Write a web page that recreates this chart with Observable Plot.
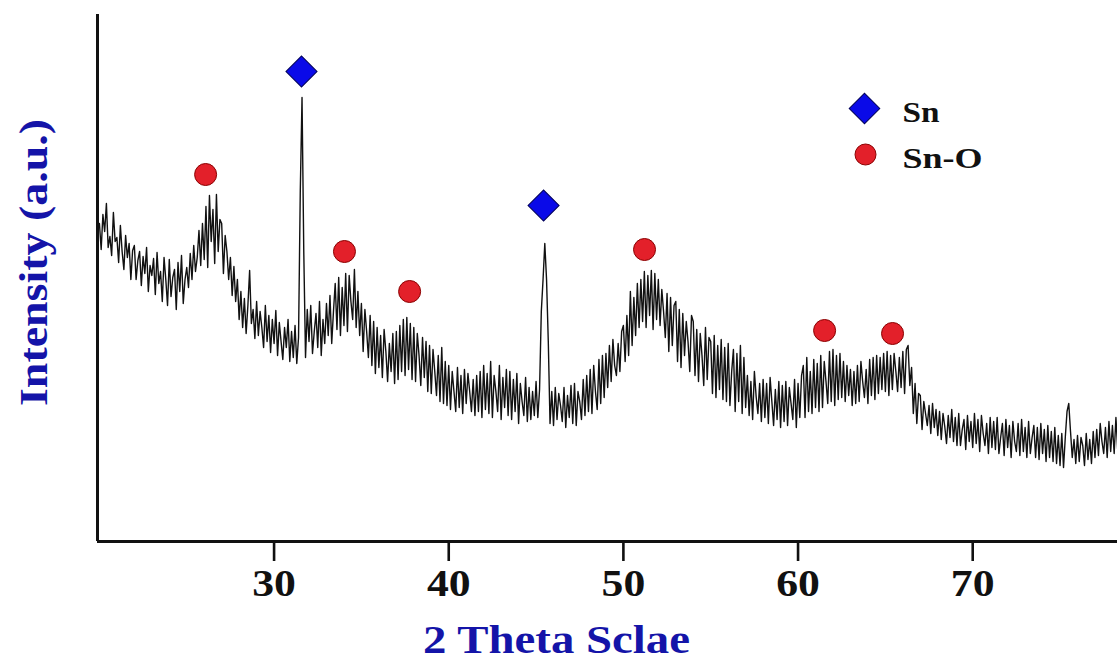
<!DOCTYPE html>
<html><head><meta charset="utf-8">
<script src="https://cdn.jsdelivr.net/npm/d3@7"></script>
<script src="https://cdn.jsdelivr.net/npm/@observablehq/plot@0.6"></script>
<style>
html,body{margin:0;padding:0;background:#fff;}
#chart svg text{font-family:"Liberation Serif","Times New Roman",serif;}
#chart svg [aria-label="x-axis tick"] path,
#chart svg [aria-label="x-axis tick"] line{stroke-width:2.6px;stroke:#111;}
</style></head><body><div id="chart"></div>
<script>
// XRD pattern: 2θ grid start/step and intensities (a.u.)
const twoThetaStart = 20.0;
const twoThetaStep = 0.1;
const intensity = [
  318,292,327,310,338,294,305,286,329,300, // 20
  304,279,316,290,272,306,284,298,262,291, // 21
  296,262,281,290,256,285,268,294,250,276, // 22
  266,283,247,289,258,270,240,284,262,236, // 23
  282,245,264,272,232,279,250,286,238,262, // 24
  274,254,288,262,296,270,284,311,276,318, // 25
  282,335,274,346,300,332,278,347,290,322, // 26
  318,268,306,290,262,284,246,275,240,262, // 27
  222,250,214,243,208,236,271,218,232,203, // 28
  240,206,230,214,194,236,200,226,189,222, // 29
  198,231,186,219,200,182,214,194,222,180, // 30
  210,184,216,178,204,350,444,290,184,232, // 31
  200,236,188,210,228,194,240,186,222,198, // 32
  238,206,246,198,230,258,212,264,206,254, // 33
  216,268,210,266,240,222,272,214,250,206, // 34
  238,190,232,210,184,226,176,220,168,214, // 35
  174,206,164,212,190,160,198,170,208,158, // 36
  210,162,216,170,222,166,224,172,218,162, // 37
  214,160,208,186,156,204,164,200,150,196, // 38
  148,192,170,146,186,140,194,138,180,136, // 39
  176,132,170,150,130,174,134,166,128,172, // 40
  138,168,150,130,162,126,166,130,170,124, // 41
  176,132,168,128,180,124,166,150,130,176, // 42
  122,164,134,172,126,170,122,162,130,168, // 43
  118,158,140,126,164,120,154,122,150,126, // 44
  160,124,152,230,262,298,262,200,118,150, // 45
  116,154,122,148,136,120,154,114,146,124, // 46
  156,118,158,116,150,140,122,162,126,166, // 47
  130,172,128,176,150,132,182,138,186,144, // 48
  188,154,196,160,202,176,166,198,170,210, // 49
  216,180,226,186,250,196,244,206,258,214, // 50
  262,220,270,214,266,226,271,212,268,222, // 51
  262,216,252,230,204,248,190,244,196,236, // 52
  240,180,232,174,228,186,220,200,170,226, // 53
  220,166,212,160,208,186,156,214,162,204, // 54
  200,148,206,144,196,152,202,142,194,140, // 55
  198,136,170,192,130,188,140,196,128,184, // 56
  134,166,126,160,122,170,145,128,158,120, // 57
  162,124,158,118,164,140,116,152,122,160, // 58
  114,156,120,160,116,154,138,122,162,114, // 59
  158,124,166,176,124,184,130,170,128,182, // 60
  134,178,130,186,134,180,160,138,190,140, // 61
  192,136,186,142,188,144,180,140,176,146, // 62
  172,136,170,138,176,140,180,160,144,172, // 63
  138,182,146,184,142,186,148,184,152,188, // 64
  150,190,146,186,152,188,170,150,184,154, // 65
  190,148,192,196,156,174,128,158,118,148, // 66
  146,112,140,128,116,136,108,138,114,132, // 67
  106,130,102,128,115,98,126,104,132,100,  // 68
  124,96,128,96,112,122,92,126,100,120,    // 69
  94,128,98,122,90,126,108,96,118,88,      // 70
  124,94,120,92,124,88,104,118,86,122,     // 71
  94,116,84,120,100,90,118,86,122,90,      // 72
  114,84,120,88,104,116,84,114,82,118,     // 73
  88,112,80,116,84,110,80,114,78,106,      // 74
  76,108,74,104,130,138,110,84,102,78,     // 75
  106,80,104,96,76,108,82,102,78,110,      // 76
  84,112,86,118,100,88,114,84,120,90,      // 77
  116,88,124,92,130                        // 78
];
const xTicks = [30, 40, 50, 60, 70];
const xDomain = [19.89, 78.29];
const yDomain = [0, 526];
const snPeakTheta = [31.57, 45.43];
const snPeakMark = [470, 336];
const snOPeakTheta = [26.08, 34.03, 37.76, 51.21, 61.52, 65.41];
const snOPeakMark = [367, 290, 250, 292, 211, 208];
const legendLabels = ["Sn", "Sn-O"];
const xLabel = "2 Theta Sclae";
const yLabel = "Intensity (a.u.)";

const data = intensity.map((v, i) => ({theta: +(twoThetaStart + i * twoThetaStep).toFixed(1), I: v}));
const snPeaks = snPeakTheta.map((t, i) => ({t, m: snPeakMark[i]}));
const snOPeaks = snOPeakTheta.map((t, i) => ({t, m: snOPeakMark[i]}));

const serif = "Liberation Serif";
const blue = "#1414a8";
const snFill = "#0a0ae8", snStroke = "#00005a";
const snOFill = "#e3202a", snOStroke = "#8a0000";

const plot = Plot.plot({
  width: 1117, height: 662,
  marginLeft: 97, marginRight: 0, marginTop: 15, marginBottom: 121,
  x: {domain: xDomain, axis: null},
  y: {domain: yDomain, axis: null},
  style: {background: "white", fontFamily: serif, color: "#111"},
  marks: [
    Plot.line(data, {x: "theta", y: "I", stroke: "#111", strokeWidth: 1.4, clip: true}),
    Plot.ruleY([yDomain[0]], {stroke: "#111", strokeWidth: 3}),
    Plot.ruleX([xDomain[0]], {y1: yDomain[0], y2: yDomain[1] + 1, stroke: "#111", strokeWidth: 3}),
    Plot.axisX({ticks: xTicks, tickSize: 20, tickPadding: 8, tickFormat: d => String(d),
      fontSize: 38, fontWeight: "bold", fontFamily: serif, fill: "#111", label: null}),
    Plot.dot(snPeaks, {x: "t", y: "m", symbol: "square", r: 12.4, rotate: 45, fill: snFill, stroke: snStroke, strokeWidth: 1}),
    Plot.dot(snOPeaks, {x: "t", y: "m", symbol: "circle", r: 11, fill: snOFill, stroke: snOStroke, strokeWidth: 1}),
    // legend
    Plot.dot([legendLabels[0]], {frameAnchor: "top-left", dx: 767, dy: 93, symbol: "square", r: 12.2, rotate: 45, fill: snFill, stroke: snStroke, strokeWidth: 1}),
    Plot.dot([legendLabels[1]], {frameAnchor: "top-left", dx: 768, dy: 139, symbol: "circle", r: 10.5, fill: snOFill, stroke: snOStroke, strokeWidth: 1}),
    Plot.text([legendLabels[0]], {frameAnchor: "top-left", dx: 805, dy: 97, text: d => d, textAnchor: "start", lineAnchor: "middle", fontSize: 30, fontWeight: "bold", fontFamily: serif, fill: "#111"}),
    Plot.text([legendLabels[1]], {frameAnchor: "top-left", dx: 805, dy: 143, text: d => d, textAnchor: "start", lineAnchor: "middle", fontSize: 30, fontWeight: "bold", fontFamily: serif, fill: "#111"}),
    // axis titles
    Plot.text([xLabel], {frameAnchor: "bottom", dx: -51, dy: 99, text: d => d, textAnchor: "middle", lineAnchor: "middle", fontSize: 40, fontWeight: "bold", fontFamily: serif, fill: blue}),
    Plot.text([yLabel], {frameAnchor: "left", dx: -63, dy: -16, rotate: -90, text: d => d, textAnchor: "middle", lineAnchor: "middle", fontSize: 40, fontWeight: "bold", fontFamily: serif, fill: blue})
  ]
});
document.getElementById("chart").append(plot);

// the reference glyphs are horizontally widened; stretch text to match
plot.querySelectorAll("text").forEach(t => {
  const len = t.getComputedTextLength();
  if (!len) return;
  const content = t.textContent;
  let target = len * 1.15;
  if (content === yLabel) target = 287;
  else if (content === xLabel) target = 267;
  else if (content === "Sn-O") target = 80;
  else if (content === "Sn") target = 37;
  t.setAttribute("textLength", target.toFixed(1));
  t.setAttribute("lengthAdjust", "spacingAndGlyphs");
});
</script>
</body></html>
